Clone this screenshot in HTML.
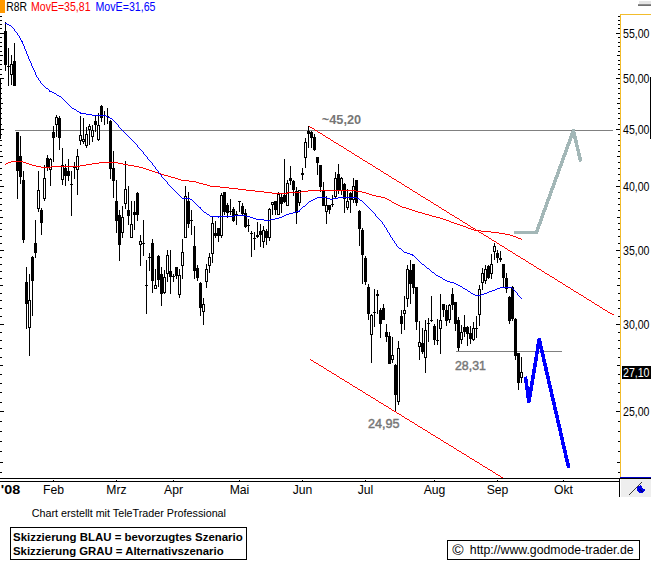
<!DOCTYPE html>
<html><head><meta charset="utf-8"><title>R8R Chart</title>
<style>
html,body{margin:0;padding:0;background:#fff;}
#c{position:relative;width:651px;height:572px;overflow:hidden;background:#fff;}
svg{position:absolute;left:0;top:0;}
text{font-family:"Liberation Sans",Arial,sans-serif;}
</style></head><body><div id="c">
<svg width="651" height="572" viewBox="0 0 651 572">
<g shape-rendering="crispEdges">
<rect x="0" y="0" width="5" height="13" fill="#ff9900"/>
<rect x="639" y="1" width="12" height="3" fill="#e6e6e6"/>
<rect x="638" y="4" width="13" height="1" fill="#8e8e8e"/>
<rect x="638" y="5" width="13" height="1" fill="#707070"/>
<rect x="620" y="14" width="31" height="1" fill="#f2bc2c"/>
<rect x="620" y="14" width="1" height="463" fill="#f2bc2c"/>
<rect x="650" y="77" width="1" height="62" fill="#000"/>
<rect x="0" y="78" width="1" height="61" fill="#000"/>
<rect x="618" y="16" width="2" height="1" fill="#000"/>
<rect x="0" y="16" width="2" height="1" fill="#000"/>
<rect x="618" y="20" width="2" height="1" fill="#000"/>
<rect x="0" y="20" width="2" height="1" fill="#000"/>
<rect x="618" y="24" width="2" height="1" fill="#000"/>
<rect x="0" y="24" width="2" height="1" fill="#000"/>
<rect x="618" y="28" width="2" height="1" fill="#000"/>
<rect x="0" y="28" width="2" height="1" fill="#000"/>
<rect x="616" y="33" width="4" height="1" fill="#000"/>
<rect x="0" y="33" width="4" height="1" fill="#000"/>
<rect x="618" y="37" width="2" height="1" fill="#000"/>
<rect x="0" y="37" width="2" height="1" fill="#000"/>
<rect x="618" y="42" width="2" height="1" fill="#000"/>
<rect x="0" y="42" width="2" height="1" fill="#000"/>
<rect x="618" y="46" width="2" height="1" fill="#000"/>
<rect x="0" y="46" width="2" height="1" fill="#000"/>
<rect x="618" y="51" width="2" height="1" fill="#000"/>
<rect x="0" y="51" width="2" height="1" fill="#000"/>
<rect x="617" y="55" width="3" height="1" fill="#000"/>
<rect x="0" y="55" width="3" height="1" fill="#000"/>
<rect x="618" y="60" width="2" height="1" fill="#000"/>
<rect x="0" y="60" width="2" height="1" fill="#000"/>
<rect x="618" y="64" width="2" height="1" fill="#000"/>
<rect x="0" y="64" width="2" height="1" fill="#000"/>
<rect x="618" y="69" width="2" height="1" fill="#000"/>
<rect x="0" y="69" width="2" height="1" fill="#000"/>
<rect x="618" y="74" width="2" height="1" fill="#000"/>
<rect x="0" y="74" width="2" height="1" fill="#000"/>
<rect x="616" y="78" width="4" height="1" fill="#000"/>
<rect x="0" y="78" width="4" height="1" fill="#000"/>
<rect x="618" y="83" width="2" height="1" fill="#000"/>
<rect x="0" y="83" width="2" height="1" fill="#000"/>
<rect x="618" y="88" width="2" height="1" fill="#000"/>
<rect x="0" y="88" width="2" height="1" fill="#000"/>
<rect x="618" y="93" width="2" height="1" fill="#000"/>
<rect x="0" y="93" width="2" height="1" fill="#000"/>
<rect x="618" y="98" width="2" height="1" fill="#000"/>
<rect x="0" y="98" width="2" height="1" fill="#000"/>
<rect x="617" y="103" width="3" height="1" fill="#000"/>
<rect x="0" y="103" width="3" height="1" fill="#000"/>
<rect x="618" y="108" width="2" height="1" fill="#000"/>
<rect x="0" y="108" width="2" height="1" fill="#000"/>
<rect x="618" y="113" width="2" height="1" fill="#000"/>
<rect x="0" y="113" width="2" height="1" fill="#000"/>
<rect x="618" y="118" width="2" height="1" fill="#000"/>
<rect x="0" y="118" width="2" height="1" fill="#000"/>
<rect x="618" y="124" width="2" height="1" fill="#000"/>
<rect x="0" y="124" width="2" height="1" fill="#000"/>
<rect x="616" y="129" width="4" height="1" fill="#000"/>
<rect x="0" y="129" width="4" height="1" fill="#000"/>
<rect x="618" y="134" width="2" height="1" fill="#000"/>
<rect x="0" y="134" width="2" height="1" fill="#000"/>
<rect x="618" y="140" width="2" height="1" fill="#000"/>
<rect x="0" y="140" width="2" height="1" fill="#000"/>
<rect x="618" y="145" width="2" height="1" fill="#000"/>
<rect x="0" y="145" width="2" height="1" fill="#000"/>
<rect x="618" y="151" width="2" height="1" fill="#000"/>
<rect x="0" y="151" width="2" height="1" fill="#000"/>
<rect x="617" y="156" width="3" height="1" fill="#000"/>
<rect x="0" y="156" width="3" height="1" fill="#000"/>
<rect x="618" y="162" width="2" height="1" fill="#000"/>
<rect x="0" y="162" width="2" height="1" fill="#000"/>
<rect x="618" y="168" width="2" height="1" fill="#000"/>
<rect x="0" y="168" width="2" height="1" fill="#000"/>
<rect x="618" y="174" width="2" height="1" fill="#000"/>
<rect x="0" y="174" width="2" height="1" fill="#000"/>
<rect x="618" y="180" width="2" height="1" fill="#000"/>
<rect x="0" y="180" width="2" height="1" fill="#000"/>
<rect x="616" y="186" width="4" height="1" fill="#000"/>
<rect x="0" y="186" width="4" height="1" fill="#000"/>
<rect x="618" y="192" width="2" height="1" fill="#000"/>
<rect x="0" y="192" width="2" height="1" fill="#000"/>
<rect x="618" y="198" width="2" height="1" fill="#000"/>
<rect x="0" y="198" width="2" height="1" fill="#000"/>
<rect x="618" y="204" width="2" height="1" fill="#000"/>
<rect x="0" y="204" width="2" height="1" fill="#000"/>
<rect x="618" y="210" width="2" height="1" fill="#000"/>
<rect x="0" y="210" width="2" height="1" fill="#000"/>
<rect x="617" y="217" width="3" height="1" fill="#000"/>
<rect x="0" y="217" width="3" height="1" fill="#000"/>
<rect x="618" y="223" width="2" height="1" fill="#000"/>
<rect x="0" y="223" width="2" height="1" fill="#000"/>
<rect x="618" y="229" width="2" height="1" fill="#000"/>
<rect x="0" y="229" width="2" height="1" fill="#000"/>
<rect x="618" y="236" width="2" height="1" fill="#000"/>
<rect x="0" y="236" width="2" height="1" fill="#000"/>
<rect x="618" y="243" width="2" height="1" fill="#000"/>
<rect x="0" y="243" width="2" height="1" fill="#000"/>
<rect x="616" y="250" width="4" height="1" fill="#000"/>
<rect x="0" y="250" width="4" height="1" fill="#000"/>
<rect x="618" y="257" width="2" height="1" fill="#000"/>
<rect x="0" y="257" width="2" height="1" fill="#000"/>
<rect x="618" y="264" width="2" height="1" fill="#000"/>
<rect x="0" y="264" width="2" height="1" fill="#000"/>
<rect x="618" y="271" width="2" height="1" fill="#000"/>
<rect x="0" y="271" width="2" height="1" fill="#000"/>
<rect x="618" y="278" width="2" height="1" fill="#000"/>
<rect x="0" y="278" width="2" height="1" fill="#000"/>
<rect x="617" y="285" width="3" height="1" fill="#000"/>
<rect x="0" y="285" width="3" height="1" fill="#000"/>
<rect x="618" y="293" width="2" height="1" fill="#000"/>
<rect x="0" y="293" width="2" height="1" fill="#000"/>
<rect x="618" y="300" width="2" height="1" fill="#000"/>
<rect x="0" y="300" width="2" height="1" fill="#000"/>
<rect x="618" y="308" width="2" height="1" fill="#000"/>
<rect x="0" y="308" width="2" height="1" fill="#000"/>
<rect x="618" y="316" width="2" height="1" fill="#000"/>
<rect x="0" y="316" width="2" height="1" fill="#000"/>
<rect x="616" y="324" width="4" height="1" fill="#000"/>
<rect x="0" y="324" width="4" height="1" fill="#000"/>
<rect x="618" y="332" width="2" height="1" fill="#000"/>
<rect x="0" y="332" width="2" height="1" fill="#000"/>
<rect x="618" y="340" width="2" height="1" fill="#000"/>
<rect x="0" y="340" width="2" height="1" fill="#000"/>
<rect x="618" y="348" width="2" height="1" fill="#000"/>
<rect x="0" y="348" width="2" height="1" fill="#000"/>
<rect x="618" y="357" width="2" height="1" fill="#000"/>
<rect x="0" y="357" width="2" height="1" fill="#000"/>
<rect x="617" y="365" width="3" height="1" fill="#000"/>
<rect x="0" y="365" width="3" height="1" fill="#000"/>
<rect x="618" y="374" width="2" height="1" fill="#000"/>
<rect x="0" y="374" width="2" height="1" fill="#000"/>
<rect x="618" y="383" width="2" height="1" fill="#000"/>
<rect x="0" y="383" width="2" height="1" fill="#000"/>
<rect x="618" y="392" width="2" height="1" fill="#000"/>
<rect x="0" y="392" width="2" height="1" fill="#000"/>
<rect x="618" y="402" width="2" height="1" fill="#000"/>
<rect x="0" y="402" width="2" height="1" fill="#000"/>
<rect x="616" y="411" width="4" height="1" fill="#000"/>
<rect x="0" y="411" width="4" height="1" fill="#000"/>
<rect x="618" y="421" width="2" height="1" fill="#000"/>
<rect x="0" y="421" width="2" height="1" fill="#000"/>
<rect x="618" y="431" width="2" height="1" fill="#000"/>
<rect x="0" y="431" width="2" height="1" fill="#000"/>
<rect x="618" y="441" width="2" height="1" fill="#000"/>
<rect x="0" y="441" width="2" height="1" fill="#000"/>
<rect x="618" y="451" width="2" height="1" fill="#000"/>
<rect x="0" y="451" width="2" height="1" fill="#000"/>
<rect x="617" y="462" width="3" height="1" fill="#000"/>
<rect x="0" y="462" width="3" height="1" fill="#000"/>
<rect x="618" y="472" width="2" height="1" fill="#000"/>
<rect x="0" y="472" width="2" height="1" fill="#000"/>
<rect x="0" y="478" width="651" height="1" fill="#000"/>
<rect x="0" y="481" width="620" height="1" fill="#000"/>
<rect x="620" y="477" width="31" height="1" fill="#0000c8"/>
<rect x="619" y="478" width="1" height="19" fill="#000"/>
<rect x="621" y="479" width="30" height="18" fill="#eeeeee"/>
<rect x="53" y="480" width="1" height="1" fill="#000"/>
<rect x="116" y="480" width="1" height="1" fill="#000"/>
<rect x="173" y="480" width="1" height="1" fill="#000"/>
<rect x="239" y="480" width="1" height="1" fill="#000"/>
<rect x="302" y="480" width="1" height="1" fill="#000"/>
<rect x="365" y="480" width="1" height="1" fill="#000"/>
<rect x="434" y="480" width="1" height="1" fill="#000"/>
<rect x="497" y="480" width="1" height="1" fill="#000"/>
<rect x="563" y="480" width="1" height="1" fill="#000"/>
<rect x="15" y="130" width="598" height="1" fill="#808080"/>
<rect x="456" y="351" width="106" height="1" fill="#808080"/>
<rect x="5" y="22" width="1" height="49" fill="#000"/>
<rect x="4" y="31" width="3" height="34" fill="#000"/>
<rect x="8" y="48" width="1" height="38" fill="#000"/>
<rect x="7" y="66" width="3" height="1" fill="#000"/>
<rect x="11" y="55" width="1" height="30" fill="#000"/>
<rect x="10" y="64" width="3" height="11" fill="#000"/>
<rect x="11" y="65" width="1" height="9" fill="#fff"/>
<rect x="14" y="43" width="1" height="43" fill="#000"/>
<rect x="13" y="61" width="3" height="25" fill="#000"/>
<rect x="17" y="132" width="1" height="67" fill="#000"/>
<rect x="16" y="132" width="3" height="39" fill="#000"/>
<rect x="20" y="136" width="1" height="48" fill="#000"/>
<rect x="19" y="156" width="3" height="21" fill="#000"/>
<rect x="23" y="171" width="1" height="72" fill="#000"/>
<rect x="22" y="180" width="3" height="60" fill="#000"/>
<rect x="26" y="267" width="1" height="62" fill="#000"/>
<rect x="25" y="282" width="3" height="22" fill="#000"/>
<rect x="29" y="274" width="1" height="82" fill="#000"/>
<rect x="28" y="300" width="3" height="28" fill="#000"/>
<rect x="29" y="301" width="1" height="26" fill="#fff"/>
<rect x="32" y="256" width="1" height="60" fill="#000"/>
<rect x="31" y="257" width="3" height="24" fill="#000"/>
<rect x="35" y="220" width="1" height="38" fill="#000"/>
<rect x="34" y="243" width="3" height="10" fill="#000"/>
<rect x="38" y="171" width="1" height="41" fill="#000"/>
<rect x="37" y="190" width="3" height="19" fill="#000"/>
<rect x="38" y="191" width="1" height="17" fill="#fff"/>
<rect x="41" y="208" width="1" height="27" fill="#000"/>
<rect x="40" y="210" width="3" height="13" fill="#000"/>
<rect x="44" y="165" width="1" height="36" fill="#000"/>
<rect x="43" y="178" width="3" height="21" fill="#000"/>
<rect x="44" y="179" width="1" height="19" fill="#fff"/>
<rect x="47" y="155" width="1" height="16" fill="#000"/>
<rect x="46" y="158" width="3" height="9" fill="#000"/>
<rect x="50" y="158" width="1" height="28" fill="#000"/>
<rect x="49" y="159" width="3" height="11" fill="#000"/>
<rect x="50" y="160" width="1" height="9" fill="#fff"/>
<rect x="53" y="126" width="1" height="36" fill="#000"/>
<rect x="52" y="132" width="3" height="6" fill="#000"/>
<rect x="56" y="115" width="1" height="22" fill="#000"/>
<rect x="55" y="117" width="3" height="8" fill="#000"/>
<rect x="56" y="118" width="1" height="6" fill="#fff"/>
<rect x="59" y="116" width="1" height="34" fill="#000"/>
<rect x="58" y="118" width="3" height="20" fill="#000"/>
<rect x="62" y="148" width="1" height="37" fill="#000"/>
<rect x="61" y="165" width="3" height="15" fill="#000"/>
<rect x="62" y="166" width="1" height="13" fill="#fff"/>
<rect x="65" y="164" width="1" height="22" fill="#000"/>
<rect x="64" y="168" width="3" height="8" fill="#000"/>
<rect x="68" y="159" width="1" height="22" fill="#000"/>
<rect x="67" y="171" width="3" height="5" fill="#000"/>
<rect x="71" y="171" width="1" height="45" fill="#000"/>
<rect x="70" y="184" width="3" height="1" fill="#000"/>
<rect x="74" y="162" width="1" height="17" fill="#000"/>
<rect x="73" y="166" width="3" height="2" fill="#000"/>
<rect x="77" y="149" width="1" height="46" fill="#000"/>
<rect x="76" y="156" width="3" height="14" fill="#000"/>
<rect x="77" y="157" width="1" height="12" fill="#fff"/>
<rect x="80" y="116" width="1" height="29" fill="#000"/>
<rect x="79" y="135" width="3" height="6" fill="#000"/>
<rect x="80" y="136" width="1" height="4" fill="#fff"/>
<rect x="83" y="118" width="1" height="26" fill="#000"/>
<rect x="82" y="139" width="3" height="3" fill="#000"/>
<rect x="83" y="140" width="1" height="1" fill="#fff"/>
<rect x="86" y="127" width="1" height="21" fill="#000"/>
<rect x="85" y="134" width="3" height="12" fill="#000"/>
<rect x="86" y="135" width="1" height="10" fill="#fff"/>
<rect x="89" y="124" width="1" height="21" fill="#000"/>
<rect x="88" y="126" width="3" height="4" fill="#000"/>
<rect x="89" y="127" width="1" height="2" fill="#fff"/>
<rect x="92" y="125" width="1" height="17" fill="#000"/>
<rect x="91" y="130" width="3" height="7" fill="#000"/>
<rect x="92" y="131" width="1" height="5" fill="#fff"/>
<rect x="95" y="115" width="1" height="17" fill="#000"/>
<rect x="94" y="121" width="3" height="4" fill="#000"/>
<rect x="98" y="113" width="1" height="28" fill="#000"/>
<rect x="97" y="125" width="3" height="15" fill="#000"/>
<rect x="98" y="126" width="1" height="13" fill="#fff"/>
<rect x="101" y="105" width="1" height="17" fill="#000"/>
<rect x="100" y="106" width="3" height="12" fill="#000"/>
<rect x="104" y="111" width="1" height="14" fill="#000"/>
<rect x="103" y="115" width="3" height="1" fill="#000"/>
<rect x="107" y="108" width="1" height="16" fill="#000"/>
<rect x="106" y="116" width="3" height="1" fill="#000"/>
<rect x="110" y="120" width="1" height="59" fill="#000"/>
<rect x="109" y="121" width="3" height="48" fill="#000"/>
<rect x="113" y="151" width="1" height="47" fill="#000"/>
<rect x="112" y="168" width="3" height="13" fill="#000"/>
<rect x="116" y="180" width="1" height="53" fill="#000"/>
<rect x="115" y="201" width="3" height="20" fill="#000"/>
<rect x="119" y="210" width="1" height="51" fill="#000"/>
<rect x="118" y="215" width="3" height="30" fill="#000"/>
<rect x="122" y="206" width="1" height="32" fill="#000"/>
<rect x="121" y="217" width="3" height="16" fill="#000"/>
<rect x="122" y="218" width="1" height="14" fill="#fff"/>
<rect x="125" y="161" width="1" height="48" fill="#000"/>
<rect x="124" y="189" width="3" height="15" fill="#000"/>
<rect x="125" y="190" width="1" height="13" fill="#fff"/>
<rect x="128" y="186" width="1" height="39" fill="#000"/>
<rect x="127" y="210" width="3" height="6" fill="#000"/>
<rect x="131" y="201" width="1" height="37" fill="#000"/>
<rect x="130" y="224" width="3" height="14" fill="#000"/>
<rect x="131" y="225" width="1" height="12" fill="#fff"/>
<rect x="134" y="201" width="1" height="29" fill="#000"/>
<rect x="133" y="212" width="3" height="3" fill="#000"/>
<rect x="137" y="192" width="1" height="29" fill="#000"/>
<rect x="136" y="193" width="3" height="22" fill="#000"/>
<rect x="140" y="235" width="1" height="31" fill="#000"/>
<rect x="139" y="241" width="3" height="4" fill="#000"/>
<rect x="140" y="242" width="1" height="2" fill="#fff"/>
<rect x="143" y="220" width="1" height="36" fill="#000"/>
<rect x="142" y="243" width="3" height="1" fill="#000"/>
<rect x="146" y="260" width="1" height="54" fill="#000"/>
<rect x="145" y="285" width="3" height="1" fill="#000"/>
<rect x="149" y="253" width="1" height="18" fill="#000"/>
<rect x="148" y="257" width="3" height="1" fill="#000"/>
<rect x="152" y="239" width="1" height="54" fill="#000"/>
<rect x="151" y="243" width="3" height="38" fill="#000"/>
<rect x="155" y="269" width="1" height="20" fill="#000"/>
<rect x="154" y="285" width="3" height="4" fill="#000"/>
<rect x="155" y="286" width="1" height="2" fill="#fff"/>
<rect x="158" y="255" width="1" height="32" fill="#000"/>
<rect x="157" y="256" width="3" height="24" fill="#000"/>
<rect x="161" y="267" width="1" height="39" fill="#000"/>
<rect x="160" y="274" width="3" height="20" fill="#000"/>
<rect x="164" y="270" width="1" height="24" fill="#000"/>
<rect x="163" y="277" width="3" height="16" fill="#000"/>
<rect x="164" y="278" width="1" height="14" fill="#fff"/>
<rect x="167" y="250" width="1" height="32" fill="#000"/>
<rect x="166" y="255" width="3" height="19" fill="#000"/>
<rect x="167" y="256" width="1" height="17" fill="#fff"/>
<rect x="170" y="250" width="1" height="44" fill="#000"/>
<rect x="169" y="271" width="3" height="6" fill="#000"/>
<rect x="173" y="274" width="1" height="8" fill="#000"/>
<rect x="172" y="276" width="3" height="1" fill="#000"/>
<rect x="176" y="267" width="1" height="12" fill="#000"/>
<rect x="175" y="267" width="3" height="9" fill="#000"/>
<rect x="179" y="269" width="1" height="29" fill="#000"/>
<rect x="178" y="275" width="3" height="20" fill="#000"/>
<rect x="179" y="276" width="1" height="18" fill="#fff"/>
<rect x="182" y="239" width="1" height="40" fill="#000"/>
<rect x="181" y="252" width="3" height="14" fill="#000"/>
<rect x="182" y="253" width="1" height="12" fill="#fff"/>
<rect x="185" y="186" width="1" height="52" fill="#000"/>
<rect x="184" y="196" width="3" height="42" fill="#000"/>
<rect x="185" y="197" width="1" height="40" fill="#fff"/>
<rect x="188" y="192" width="1" height="36" fill="#000"/>
<rect x="187" y="201" width="3" height="23" fill="#000"/>
<rect x="191" y="210" width="1" height="25" fill="#000"/>
<rect x="190" y="220" width="3" height="1" fill="#000"/>
<rect x="194" y="226" width="1" height="53" fill="#000"/>
<rect x="193" y="246" width="3" height="25" fill="#000"/>
<rect x="197" y="265" width="1" height="16" fill="#000"/>
<rect x="196" y="268" width="3" height="10" fill="#000"/>
<rect x="200" y="282" width="1" height="34" fill="#000"/>
<rect x="199" y="283" width="3" height="25" fill="#000"/>
<rect x="203" y="298" width="1" height="27" fill="#000"/>
<rect x="202" y="304" width="3" height="8" fill="#000"/>
<rect x="203" y="305" width="1" height="6" fill="#fff"/>
<rect x="206" y="264" width="1" height="24" fill="#000"/>
<rect x="205" y="269" width="3" height="13" fill="#000"/>
<rect x="206" y="270" width="1" height="11" fill="#fff"/>
<rect x="209" y="253" width="1" height="20" fill="#000"/>
<rect x="208" y="257" width="3" height="9" fill="#000"/>
<rect x="209" y="258" width="1" height="7" fill="#fff"/>
<rect x="212" y="217" width="1" height="46" fill="#000"/>
<rect x="211" y="223" width="3" height="31" fill="#000"/>
<rect x="212" y="224" width="1" height="29" fill="#fff"/>
<rect x="215" y="221" width="1" height="17" fill="#000"/>
<rect x="214" y="233" width="3" height="3" fill="#000"/>
<rect x="218" y="228" width="1" height="14" fill="#000"/>
<rect x="217" y="228" width="3" height="8" fill="#000"/>
<rect x="221" y="193" width="1" height="45" fill="#000"/>
<rect x="220" y="195" width="3" height="41" fill="#000"/>
<rect x="221" y="196" width="1" height="39" fill="#fff"/>
<rect x="224" y="192" width="1" height="23" fill="#000"/>
<rect x="223" y="192" width="3" height="20" fill="#000"/>
<rect x="227" y="203" width="1" height="15" fill="#000"/>
<rect x="226" y="205" width="3" height="8" fill="#000"/>
<rect x="230" y="199" width="1" height="16" fill="#000"/>
<rect x="229" y="211" width="3" height="1" fill="#000"/>
<rect x="233" y="207" width="1" height="15" fill="#000"/>
<rect x="232" y="209" width="3" height="12" fill="#000"/>
<rect x="236" y="211" width="1" height="14" fill="#000"/>
<rect x="235" y="214" width="3" height="2" fill="#000"/>
<rect x="239" y="201" width="1" height="11" fill="#000"/>
<rect x="238" y="201" width="3" height="1" fill="#000"/>
<rect x="242" y="203" width="1" height="13" fill="#000"/>
<rect x="241" y="206" width="3" height="8" fill="#000"/>
<rect x="245" y="209" width="1" height="19" fill="#000"/>
<rect x="244" y="213" width="3" height="14" fill="#000"/>
<rect x="248" y="219" width="1" height="13" fill="#000"/>
<rect x="247" y="225" width="3" height="1" fill="#000"/>
<rect x="251" y="231" width="1" height="26" fill="#000"/>
<rect x="250" y="233" width="3" height="1" fill="#000"/>
<rect x="254" y="232" width="1" height="18" fill="#000"/>
<rect x="253" y="238" width="3" height="1" fill="#000"/>
<rect x="257" y="222" width="1" height="16" fill="#000"/>
<rect x="256" y="235" width="3" height="2" fill="#000"/>
<rect x="260" y="224" width="1" height="23" fill="#000"/>
<rect x="259" y="231" width="3" height="4" fill="#000"/>
<rect x="263" y="226" width="1" height="22" fill="#000"/>
<rect x="262" y="230" width="3" height="12" fill="#000"/>
<rect x="263" y="231" width="1" height="10" fill="#fff"/>
<rect x="266" y="229" width="1" height="16" fill="#000"/>
<rect x="265" y="231" width="3" height="7" fill="#000"/>
<rect x="269" y="208" width="1" height="33" fill="#000"/>
<rect x="268" y="209" width="3" height="29" fill="#000"/>
<rect x="269" y="210" width="1" height="27" fill="#fff"/>
<rect x="272" y="202" width="1" height="13" fill="#000"/>
<rect x="271" y="202" width="3" height="3" fill="#000"/>
<rect x="272" y="203" width="1" height="1" fill="#fff"/>
<rect x="275" y="201" width="1" height="14" fill="#000"/>
<rect x="274" y="201" width="3" height="9" fill="#000"/>
<rect x="278" y="192" width="1" height="23" fill="#000"/>
<rect x="277" y="194" width="3" height="21" fill="#000"/>
<rect x="278" y="195" width="1" height="19" fill="#fff"/>
<rect x="281" y="193" width="1" height="20" fill="#000"/>
<rect x="280" y="197" width="3" height="7" fill="#000"/>
<rect x="284" y="159" width="1" height="44" fill="#000"/>
<rect x="283" y="195" width="3" height="7" fill="#000"/>
<rect x="287" y="180" width="1" height="26" fill="#000"/>
<rect x="286" y="183" width="3" height="23" fill="#000"/>
<rect x="287" y="184" width="1" height="21" fill="#fff"/>
<rect x="290" y="166" width="1" height="19" fill="#000"/>
<rect x="289" y="178" width="3" height="3" fill="#000"/>
<rect x="293" y="180" width="1" height="16" fill="#000"/>
<rect x="292" y="181" width="3" height="9" fill="#000"/>
<rect x="296" y="187" width="1" height="37" fill="#000"/>
<rect x="295" y="191" width="3" height="22" fill="#000"/>
<rect x="299" y="190" width="1" height="16" fill="#000"/>
<rect x="298" y="190" width="3" height="13" fill="#000"/>
<rect x="299" y="191" width="1" height="11" fill="#fff"/>
<rect x="302" y="168" width="1" height="12" fill="#000"/>
<rect x="301" y="173" width="3" height="2" fill="#000"/>
<rect x="305" y="138" width="1" height="30" fill="#000"/>
<rect x="304" y="142" width="3" height="16" fill="#000"/>
<rect x="305" y="143" width="1" height="14" fill="#fff"/>
<rect x="308" y="126" width="1" height="22" fill="#000"/>
<rect x="307" y="131" width="3" height="3" fill="#000"/>
<rect x="311" y="131" width="1" height="17" fill="#000"/>
<rect x="310" y="132" width="3" height="6" fill="#000"/>
<rect x="314" y="134" width="1" height="17" fill="#000"/>
<rect x="313" y="137" width="3" height="13" fill="#000"/>
<rect x="317" y="157" width="1" height="18" fill="#000"/>
<rect x="316" y="157" width="3" height="6" fill="#000"/>
<rect x="320" y="165" width="1" height="27" fill="#000"/>
<rect x="319" y="165" width="3" height="22" fill="#000"/>
<rect x="323" y="182" width="1" height="24" fill="#000"/>
<rect x="322" y="190" width="3" height="16" fill="#000"/>
<rect x="326" y="196" width="1" height="28" fill="#000"/>
<rect x="325" y="205" width="3" height="7" fill="#000"/>
<rect x="326" y="206" width="1" height="5" fill="#fff"/>
<rect x="329" y="205" width="1" height="9" fill="#000"/>
<rect x="328" y="205" width="3" height="5" fill="#000"/>
<rect x="332" y="195" width="1" height="12" fill="#000"/>
<rect x="331" y="204" width="3" height="1" fill="#000"/>
<rect x="335" y="172" width="1" height="26" fill="#000"/>
<rect x="334" y="178" width="3" height="19" fill="#000"/>
<rect x="335" y="179" width="1" height="17" fill="#fff"/>
<rect x="338" y="164" width="1" height="30" fill="#000"/>
<rect x="337" y="174" width="3" height="16" fill="#000"/>
<rect x="341" y="177" width="1" height="18" fill="#000"/>
<rect x="340" y="178" width="3" height="13" fill="#000"/>
<rect x="341" y="179" width="1" height="11" fill="#fff"/>
<rect x="344" y="183" width="1" height="30" fill="#000"/>
<rect x="343" y="184" width="3" height="15" fill="#000"/>
<rect x="347" y="189" width="1" height="21" fill="#000"/>
<rect x="346" y="201" width="3" height="7" fill="#000"/>
<rect x="347" y="202" width="1" height="5" fill="#fff"/>
<rect x="350" y="192" width="1" height="21" fill="#000"/>
<rect x="349" y="193" width="3" height="7" fill="#000"/>
<rect x="353" y="178" width="1" height="25" fill="#000"/>
<rect x="352" y="186" width="3" height="14" fill="#000"/>
<rect x="353" y="187" width="1" height="12" fill="#fff"/>
<rect x="356" y="180" width="1" height="26" fill="#000"/>
<rect x="355" y="180" width="3" height="23" fill="#000"/>
<rect x="359" y="210" width="1" height="36" fill="#000"/>
<rect x="358" y="211" width="3" height="18" fill="#000"/>
<rect x="362" y="228" width="1" height="56" fill="#000"/>
<rect x="361" y="230" width="3" height="25" fill="#000"/>
<rect x="365" y="256" width="1" height="29" fill="#000"/>
<rect x="364" y="258" width="3" height="24" fill="#000"/>
<rect x="368" y="284" width="1" height="36" fill="#000"/>
<rect x="367" y="287" width="3" height="27" fill="#000"/>
<rect x="371" y="314" width="1" height="49" fill="#000"/>
<rect x="370" y="315" width="3" height="20" fill="#000"/>
<rect x="371" y="316" width="1" height="18" fill="#fff"/>
<rect x="374" y="289" width="1" height="38" fill="#000"/>
<rect x="373" y="312" width="3" height="1" fill="#000"/>
<rect x="377" y="290" width="1" height="24" fill="#000"/>
<rect x="376" y="294" width="3" height="2" fill="#000"/>
<rect x="380" y="308" width="1" height="30" fill="#000"/>
<rect x="379" y="310" width="3" height="14" fill="#000"/>
<rect x="383" y="304" width="1" height="16" fill="#000"/>
<rect x="382" y="308" width="3" height="12" fill="#000"/>
<rect x="386" y="324" width="1" height="18" fill="#000"/>
<rect x="385" y="332" width="3" height="5" fill="#000"/>
<rect x="389" y="332" width="1" height="32" fill="#000"/>
<rect x="388" y="336" width="3" height="28" fill="#000"/>
<rect x="392" y="337" width="1" height="26" fill="#000"/>
<rect x="391" y="355" width="3" height="5" fill="#000"/>
<rect x="392" y="356" width="1" height="3" fill="#fff"/>
<rect x="395" y="364" width="1" height="48" fill="#000"/>
<rect x="394" y="365" width="3" height="30" fill="#000"/>
<rect x="398" y="341" width="1" height="64" fill="#000"/>
<rect x="397" y="348" width="3" height="54" fill="#000"/>
<rect x="398" y="349" width="1" height="52" fill="#fff"/>
<rect x="401" y="310" width="1" height="24" fill="#000"/>
<rect x="400" y="316" width="3" height="8" fill="#000"/>
<rect x="404" y="296" width="1" height="34" fill="#000"/>
<rect x="403" y="310" width="3" height="4" fill="#000"/>
<rect x="404" y="311" width="1" height="2" fill="#fff"/>
<rect x="407" y="265" width="1" height="42" fill="#000"/>
<rect x="406" y="269" width="3" height="30" fill="#000"/>
<rect x="407" y="270" width="1" height="28" fill="#fff"/>
<rect x="410" y="260" width="1" height="44" fill="#000"/>
<rect x="409" y="270" width="3" height="14" fill="#000"/>
<rect x="413" y="264" width="1" height="30" fill="#000"/>
<rect x="412" y="264" width="3" height="24" fill="#000"/>
<rect x="416" y="287" width="1" height="43" fill="#000"/>
<rect x="415" y="287" width="3" height="35" fill="#000"/>
<rect x="419" y="321" width="1" height="39" fill="#000"/>
<rect x="418" y="342" width="3" height="5" fill="#000"/>
<rect x="419" y="343" width="1" height="3" fill="#fff"/>
<rect x="422" y="328" width="1" height="26" fill="#000"/>
<rect x="421" y="343" width="3" height="9" fill="#000"/>
<rect x="425" y="320" width="1" height="53" fill="#000"/>
<rect x="424" y="330" width="3" height="28" fill="#000"/>
<rect x="425" y="331" width="1" height="26" fill="#fff"/>
<rect x="428" y="318" width="1" height="24" fill="#000"/>
<rect x="427" y="323" width="3" height="1" fill="#000"/>
<rect x="431" y="296" width="1" height="26" fill="#000"/>
<rect x="430" y="320" width="3" height="1" fill="#000"/>
<rect x="434" y="324" width="1" height="21" fill="#000"/>
<rect x="433" y="326" width="3" height="14" fill="#000"/>
<rect x="437" y="319" width="1" height="26" fill="#000"/>
<rect x="436" y="340" width="3" height="1" fill="#000"/>
<rect x="440" y="294" width="1" height="60" fill="#000"/>
<rect x="439" y="320" width="3" height="9" fill="#000"/>
<rect x="440" y="321" width="1" height="7" fill="#fff"/>
<rect x="443" y="304" width="1" height="13" fill="#000"/>
<rect x="442" y="304" width="3" height="6" fill="#000"/>
<rect x="446" y="305" width="1" height="21" fill="#000"/>
<rect x="445" y="310" width="3" height="11" fill="#000"/>
<rect x="449" y="304" width="1" height="19" fill="#000"/>
<rect x="448" y="305" width="3" height="15" fill="#000"/>
<rect x="449" y="306" width="1" height="13" fill="#fff"/>
<rect x="452" y="288" width="1" height="22" fill="#000"/>
<rect x="451" y="294" width="3" height="11" fill="#000"/>
<rect x="455" y="302" width="1" height="29" fill="#000"/>
<rect x="454" y="302" width="3" height="22" fill="#000"/>
<rect x="458" y="317" width="1" height="34" fill="#000"/>
<rect x="457" y="320" width="3" height="28" fill="#000"/>
<rect x="461" y="325" width="1" height="19" fill="#000"/>
<rect x="460" y="332" width="3" height="8" fill="#000"/>
<rect x="461" y="333" width="1" height="6" fill="#fff"/>
<rect x="464" y="315" width="1" height="22" fill="#000"/>
<rect x="463" y="327" width="3" height="5" fill="#000"/>
<rect x="467" y="326" width="1" height="20" fill="#000"/>
<rect x="466" y="327" width="3" height="7" fill="#000"/>
<rect x="470" y="326" width="1" height="18" fill="#000"/>
<rect x="469" y="333" width="3" height="6" fill="#000"/>
<rect x="473" y="322" width="1" height="19" fill="#000"/>
<rect x="472" y="328" width="3" height="12" fill="#000"/>
<rect x="473" y="329" width="1" height="10" fill="#fff"/>
<rect x="476" y="316" width="1" height="22" fill="#000"/>
<rect x="475" y="328" width="3" height="1" fill="#000"/>
<rect x="479" y="285" width="1" height="41" fill="#000"/>
<rect x="478" y="289" width="3" height="26" fill="#000"/>
<rect x="479" y="290" width="1" height="24" fill="#fff"/>
<rect x="482" y="268" width="1" height="22" fill="#000"/>
<rect x="481" y="273" width="3" height="10" fill="#000"/>
<rect x="482" y="274" width="1" height="8" fill="#fff"/>
<rect x="485" y="265" width="1" height="19" fill="#000"/>
<rect x="484" y="269" width="3" height="12" fill="#000"/>
<rect x="485" y="270" width="1" height="10" fill="#fff"/>
<rect x="488" y="265" width="1" height="14" fill="#000"/>
<rect x="487" y="266" width="3" height="12" fill="#000"/>
<rect x="491" y="254" width="1" height="25" fill="#000"/>
<rect x="490" y="264" width="3" height="10" fill="#000"/>
<rect x="491" y="265" width="1" height="8" fill="#fff"/>
<rect x="494" y="243" width="1" height="17" fill="#000"/>
<rect x="493" y="246" width="3" height="6" fill="#000"/>
<rect x="494" y="247" width="1" height="4" fill="#fff"/>
<rect x="497" y="250" width="1" height="13" fill="#000"/>
<rect x="496" y="253" width="3" height="5" fill="#000"/>
<rect x="500" y="251" width="1" height="11" fill="#000"/>
<rect x="499" y="258" width="3" height="2" fill="#000"/>
<rect x="503" y="264" width="1" height="23" fill="#000"/>
<rect x="502" y="264" width="3" height="14" fill="#000"/>
<rect x="506" y="273" width="1" height="20" fill="#000"/>
<rect x="505" y="278" width="3" height="11" fill="#000"/>
<rect x="509" y="296" width="1" height="28" fill="#000"/>
<rect x="508" y="297" width="3" height="24" fill="#000"/>
<rect x="512" y="286" width="1" height="35" fill="#000"/>
<rect x="511" y="287" width="3" height="32" fill="#000"/>
<rect x="515" y="318" width="1" height="42" fill="#000"/>
<rect x="514" y="319" width="3" height="37" fill="#000"/>
<rect x="518" y="353" width="1" height="37" fill="#000"/>
<rect x="517" y="353" width="3" height="30" fill="#000"/>
<rect x="521" y="357" width="1" height="26" fill="#000"/>
<rect x="520" y="372" width="3" height="6" fill="#000"/>
<rect x="521" y="373" width="1" height="4" fill="#fff"/>
</g>
<g shape-rendering="crispEdges" stroke-linejoin="round">
<path fill="#ff0000" d="M11 161h12v1h-12zM8 162h3v1h-3zM23 162h3v1h-3zM99 162h19v1h-19zM6 163h2v1h-2zM26 163h3v1h-3zM92 163h7v1h-7zM118 163h5v1h-5zM5 164h1v1h-1zM29 164h3v1h-3zM86 164h6v1h-6zM123 164h5v1h-5zM32 165h4v1h-4zM80 165h6v1h-6zM128 165h6v1h-6zM36 166h5v1h-5zM51 166h29v1h-29zM134 166h5v1h-5zM41 167h10v1h-10zM139 167h4v1h-4zM143 168h3v1h-3zM146 169h3v1h-3zM149 170h3v1h-3zM152 171h3v1h-3zM155 172h3v1h-3zM158 173h3v1h-3zM161 174h3v1h-3zM164 175h4v1h-4zM168 176h3v1h-3zM171 177h4v1h-4zM175 178h3v1h-3zM178 179h3v1h-3zM181 180h8v1h-8zM189 181h7v1h-7zM196 182h3v1h-3zM199 183h4v1h-4zM203 184h4v1h-4zM207 185h3v1h-3zM210 186h10v1h-10zM220 187h9v1h-9zM229 188h9v1h-9zM238 189h8v1h-8zM246 190h9v1h-9zM308 190h48v1h-48zM255 191h9v1h-9zM301 191h7v1h-7zM356 191h6v1h-6zM264 192h8v1h-8zM287 192h14v1h-14zM362 192h4v1h-4zM272 193h16v1h-16zM366 193h3v1h-3zM369 194h3v1h-3zM372 195h4v1h-4zM376 196h5v1h-5zM381 197h4v1h-4zM385 198h2v1h-2zM387 199h2v1h-2zM389 200h2v1h-2zM391 201h1v1h-1zM392 202h2v1h-2zM394 203h2v1h-2zM396 204h2v1h-2zM398 205h2v1h-2zM400 206h2v1h-2zM402 207h4v1h-4zM406 208h3v1h-3zM409 209h3v1h-3zM412 210h3v1h-3zM415 211h3v1h-3zM418 212h4v1h-4zM422 213h3v1h-3zM425 214h4v1h-4zM429 215h3v1h-3zM432 216h4v1h-4zM436 217h4v1h-4zM440 218h3v1h-3zM443 219h3v1h-3zM446 220h3v1h-3zM449 221h2v1h-2zM451 222h3v1h-3zM454 223h3v1h-3zM457 224h3v1h-3zM460 225h3v1h-3zM463 226h3v1h-3zM466 227h2v1h-2zM468 228h3v1h-3zM471 229h3v1h-3zM474 230h7v1h-7zM481 231h10v1h-10zM491 232h8v1h-8zM499 233h6v1h-6zM505 234h5v1h-5zM510 235h3v1h-3zM513 236h3v1h-3zM516 237h2v1h-2zM518 238h3v1h-3zM521 239h1v1h-1z"/>
<path fill="#0000ff" d="M5 23h2v1h-2zM7 24h2v1h-2zM9 25h2v1h-2zM11 26h1v1h-1zM12 27h1v1h-1zM13 28h1v1h-1zM14 29h1v1h-1zM14 30h1v1h-1zM15 31h1v1h-1zM16 32h1v1h-1zM17 33h1v1h-1zM17 34h1v1h-1zM18 35h1v1h-1zM19 36h1v1h-1zM19 37h1v1h-1zM20 38h1v1h-1zM20 39h1v1h-1zM21 40h1v1h-1zM21 41h2v1h-2zM22 42h1v1h-1zM22 43h1v1h-1zM23 44h1v1h-1zM23 45h1v1h-1zM24 46h1v1h-1zM24 47h1v1h-1zM24 48h1v1h-1zM25 49h1v1h-1zM25 50h1v1h-1zM26 51h1v1h-1zM26 52h1v1h-1zM26 53h1v1h-1zM27 54h1v1h-1zM27 55h1v1h-1zM28 56h1v1h-1zM28 57h1v1h-1zM28 58h1v1h-1zM29 59h1v1h-1zM29 60h1v1h-1zM30 61h1v1h-1zM30 62h1v1h-1zM31 63h1v1h-1zM31 64h1v1h-1zM31 65h1v1h-1zM32 66h1v1h-1zM32 67h1v1h-1zM33 68h1v1h-1zM33 69h1v1h-1zM34 70h1v1h-1zM34 71h1v1h-1zM35 72h1v1h-1zM35 73h1v1h-1zM35 74h1v1h-1zM36 75h1v1h-1zM36 76h1v1h-1zM37 77h1v1h-1zM38 78h1v1h-1zM38 79h1v1h-1zM39 80h1v1h-1zM40 81h1v1h-1zM40 82h1v1h-1zM41 83h1v1h-1zM42 84h1v1h-1zM43 85h1v1h-1zM44 86h1v1h-1zM45 87h1v1h-1zM46 88h2v1h-2zM48 89h1v1h-1zM49 90h1v1h-1zM49 91h3v1h-3zM52 92h2v1h-2zM54 93h2v1h-2zM56 94h1v1h-1zM57 95h2v1h-2zM59 96h2v1h-2zM61 97h1v1h-1zM62 98h1v1h-1zM63 99h1v1h-1zM64 100h1v1h-1zM65 101h1v1h-1zM66 102h1v1h-1zM67 103h1v1h-1zM68 104h1v1h-1zM69 105h1v1h-1zM70 106h1v1h-1zM71 107h1v1h-1zM72 108h2v1h-2zM74 109h2v1h-2zM76 110h1v1h-1zM77 111h2v1h-2zM79 112h2v1h-2zM80 113h6v1h-6zM86 114h6v1h-6zM92 115h14v1h-14zM106 116h2v1h-2zM108 117h2v1h-2zM110 118h2v1h-2zM112 119h1v1h-1zM113 120h1v1h-1zM114 121h1v1h-1zM115 122h1v1h-1zM116 123h1v1h-1zM117 124h1v1h-1zM118 125h1v1h-1zM118 126h1v1h-1zM119 127h1v1h-1zM120 128h1v1h-1zM121 129h1v1h-1zM122 130h1v1h-1zM123 131h1v1h-1zM124 132h1v1h-1zM125 133h1v1h-1zM126 134h1v1h-1zM127 135h1v1h-1zM128 136h1v1h-1zM129 137h1v1h-1zM130 138h1v1h-1zM131 139h1v1h-1zM132 140h1v1h-1zM133 141h1v1h-1zM134 142h1v1h-1zM135 143h1v1h-1zM136 144h1v1h-1zM137 145h1v1h-1zM137 146h1v1h-1zM138 147h1v1h-1zM139 148h1v1h-1zM140 149h1v1h-1zM141 150h1v1h-1zM142 151h1v1h-1zM143 152h1v1h-1zM143 153h1v1h-1zM144 154h1v1h-1zM145 155h1v1h-1zM146 156h1v1h-1zM147 157h1v1h-1zM147 158h1v1h-1zM148 159h1v1h-1zM149 160h1v1h-1zM150 161h1v1h-1zM151 162h1v1h-1zM152 163h1v1h-1zM152 164h1v1h-1zM153 165h1v1h-1zM154 166h1v1h-1zM155 167h1v1h-1zM155 168h1v1h-1zM156 169h1v1h-1zM157 170h1v1h-1zM158 171h1v1h-1zM158 172h1v1h-1zM159 173h1v1h-1zM160 174h1v1h-1zM161 175h1v1h-1zM161 176h1v1h-1zM162 177h1v1h-1zM163 178h1v1h-1zM164 179h1v1h-1zM165 180h1v1h-1zM166 181h1v1h-1zM167 182h1v1h-1zM167 183h1v1h-1zM168 184h1v1h-1zM169 185h1v1h-1zM170 186h1v1h-1zM171 187h1v1h-1zM172 188h1v1h-1zM173 189h1v1h-1zM174 190h1v1h-1zM175 191h1v1h-1zM176 192h1v1h-1zM177 193h1v1h-1zM178 194h1v1h-1zM179 195h1v1h-1zM180 196h1v1h-1zM181 197h1v1h-1zM317 197h10v1h-10zM338 197h19v1h-19zM182 198h8v1h-8zM315 198h2v1h-2zM327 198h3v1h-3zM333 198h5v1h-5zM357 198h2v1h-2zM190 199h2v1h-2zM313 199h2v1h-2zM330 199h3v1h-3zM359 199h1v1h-1zM192 200h1v1h-1zM311 200h2v1h-2zM360 200h2v1h-2zM193 201h1v1h-1zM309 201h2v1h-2zM362 201h1v1h-1zM194 202h1v1h-1zM308 202h1v1h-1zM363 202h1v1h-1zM195 203h1v1h-1zM307 203h1v1h-1zM364 203h1v1h-1zM196 204h1v1h-1zM306 204h1v1h-1zM365 204h1v1h-1zM197 205h1v1h-1zM305 205h1v1h-1zM366 205h1v1h-1zM198 206h1v1h-1zM303 206h2v1h-2zM367 206h1v1h-1zM199 207h2v1h-2zM302 207h1v1h-1zM368 207h1v1h-1zM200 208h1v1h-1zM301 208h1v1h-1zM369 208h1v1h-1zM201 209h1v1h-1zM300 209h1v1h-1zM370 209h1v1h-1zM202 210h1v1h-1zM299 210h1v1h-1zM371 210h1v1h-1zM203 211h1v1h-1zM296 211h4v1h-4zM372 211h1v1h-1zM204 212h2v1h-2zM293 212h3v1h-3zM373 212h1v1h-1zM206 213h1v1h-1zM289 213h4v1h-4zM374 213h1v1h-1zM207 214h2v1h-2zM286 214h3v1h-3zM375 214h1v1h-1zM209 215h1v1h-1zM234 215h12v1h-12zM284 215h2v1h-2zM375 215h1v1h-1zM210 216h24v1h-24zM246 216h4v1h-4zM282 216h2v1h-2zM376 216h1v1h-1zM218 217h1v1h-1zM250 217h3v1h-3zM279 217h3v1h-3zM377 217h1v1h-1zM253 218h3v1h-3zM275 218h4v1h-4zM378 218h1v1h-1zM256 219h8v1h-8zM270 219h5v1h-5zM379 219h1v1h-1zM264 220h6v1h-6zM380 220h1v1h-1zM381 221h1v1h-1zM382 222h1v1h-1zM382 223h1v1h-1zM383 224h1v1h-1zM384 225h1v1h-1zM384 226h1v1h-1zM385 227h1v1h-1zM386 228h1v1h-1zM386 229h1v1h-1zM387 230h1v1h-1zM387 231h1v1h-1zM388 232h1v1h-1zM389 233h1v1h-1zM389 234h1v1h-1zM390 235h1v1h-1zM390 236h1v1h-1zM391 237h1v1h-1zM392 238h1v1h-1zM392 239h1v1h-1zM393 240h1v1h-1zM394 241h1v1h-1zM394 242h1v1h-1zM395 243h1v1h-1zM396 244h1v1h-1zM396 245h1v1h-1zM397 246h1v1h-1zM398 247h1v1h-1zM399 248h2v1h-2zM401 249h1v1h-1zM402 250h1v1h-1zM403 251h1v1h-1zM404 252h3v1h-3zM407 253h3v1h-3zM410 254h3v1h-3zM412 255h2v1h-2zM414 256h1v1h-1zM415 257h1v1h-1zM416 258h1v1h-1zM417 259h1v1h-1zM418 260h1v1h-1zM419 261h1v1h-1zM420 262h1v1h-1zM421 263h1v1h-1zM422 264h2v1h-2zM424 265h1v1h-1zM425 266h1v1h-1zM426 267h1v1h-1zM427 268h2v1h-2zM429 269h1v1h-1zM430 270h1v1h-1zM431 271h1v1h-1zM432 272h2v1h-2zM434 273h1v1h-1zM435 274h1v1h-1zM436 275h2v1h-2zM438 276h2v1h-2zM440 277h2v1h-2zM442 278h1v1h-1zM443 279h2v1h-2zM445 280h2v1h-2zM447 281h3v1h-3zM450 282h4v1h-4zM454 283h2v1h-2zM456 284h2v1h-2zM458 285h2v1h-2zM460 286h2v1h-2zM462 287h1v1h-1zM500 287h12v1h-12zM463 288h2v1h-2zM497 288h3v1h-3zM512 288h1v1h-1zM465 289h2v1h-2zM495 289h2v1h-2zM513 289h1v1h-1zM467 290h1v1h-1zM492 290h3v1h-3zM514 290h1v1h-1zM468 291h2v1h-2zM489 291h3v1h-3zM515 291h1v1h-1zM470 292h1v1h-1zM487 292h2v1h-2zM516 292h1v1h-1zM471 293h2v1h-2zM484 293h3v1h-3zM517 293h1v1h-1zM473 294h2v1h-2zM481 294h3v1h-3zM517 294h1v1h-1zM475 295h6v1h-6zM518 295h1v1h-1zM519 296h1v1h-1zM520 297h1v1h-1zM521 298h1v1h-1z"/>
<path fill="#ff0000" d="M309 126h1v1h-1zM310 127h2v1h-2zM312 128h2v1h-2zM314 129h1v1h-1zM315 130h2v1h-2zM317 131h1v1h-1zM318 132h2v1h-2zM320 133h2v1h-2zM322 134h1v1h-1zM323 135h2v1h-2zM325 136h1v1h-1zM326 137h2v1h-2zM328 138h2v1h-2zM330 139h1v1h-1zM331 140h2v1h-2zM333 141h1v1h-1zM334 142h2v1h-2zM336 143h2v1h-2zM338 144h1v1h-1zM339 145h2v1h-2zM341 146h2v1h-2zM343 147h1v1h-1zM344 148h2v1h-2zM346 149h1v1h-1zM347 150h2v1h-2zM349 151h2v1h-2zM351 152h1v1h-1zM352 153h2v1h-2zM354 154h1v1h-1zM355 155h2v1h-2zM357 156h2v1h-2zM359 157h1v1h-1zM360 158h2v1h-2zM362 159h1v1h-1zM363 160h2v1h-2zM365 161h2v1h-2zM367 162h1v1h-1zM368 163h2v1h-2zM370 164h2v1h-2zM372 165h1v1h-1zM373 166h2v1h-2zM375 167h1v1h-1zM376 168h2v1h-2zM378 169h2v1h-2zM380 170h1v1h-1zM381 171h2v1h-2zM383 172h1v1h-1zM384 173h2v1h-2zM386 174h2v1h-2zM388 175h1v1h-1zM389 176h2v1h-2zM391 177h1v1h-1zM392 178h2v1h-2zM394 179h2v1h-2zM396 180h1v1h-1zM397 181h2v1h-2zM399 182h2v1h-2zM401 183h1v1h-1zM402 184h2v1h-2zM404 185h1v1h-1zM405 186h2v1h-2zM407 187h2v1h-2zM409 188h1v1h-1zM410 189h2v1h-2zM412 190h1v1h-1zM413 191h2v1h-2zM415 192h2v1h-2zM417 193h1v1h-1zM418 194h2v1h-2zM420 195h1v1h-1zM421 196h2v1h-2zM423 197h2v1h-2zM425 198h1v1h-1zM426 199h2v1h-2zM428 200h2v1h-2zM430 201h1v1h-1zM431 202h2v1h-2zM433 203h1v1h-1zM434 204h2v1h-2zM436 205h2v1h-2zM438 206h1v1h-1zM439 207h2v1h-2zM441 208h1v1h-1zM442 209h2v1h-2zM444 210h2v1h-2zM446 211h1v1h-1zM447 212h2v1h-2zM449 213h1v1h-1zM450 214h2v1h-2zM452 215h2v1h-2zM454 216h1v1h-1zM455 217h2v1h-2zM457 218h2v1h-2zM459 219h1v1h-1zM460 220h2v1h-2zM462 221h1v1h-1zM463 222h2v1h-2zM465 223h2v1h-2zM467 224h1v1h-1zM468 225h2v1h-2zM470 226h1v1h-1zM471 227h2v1h-2zM473 228h2v1h-2zM475 229h1v1h-1zM476 230h2v1h-2zM478 231h1v1h-1zM479 232h2v1h-2zM481 233h2v1h-2zM483 234h1v1h-1zM484 235h2v1h-2zM486 236h2v1h-2zM488 237h1v1h-1zM489 238h2v1h-2zM491 239h1v1h-1zM492 240h2v1h-2zM494 241h2v1h-2zM496 242h1v1h-1zM497 243h2v1h-2zM499 244h1v1h-1zM500 245h2v1h-2zM502 246h2v1h-2zM504 247h1v1h-1zM505 248h2v1h-2zM507 249h1v1h-1zM508 250h2v1h-2zM510 251h2v1h-2zM512 252h1v1h-1zM513 253h2v1h-2zM515 254h1v1h-1zM516 255h2v1h-2zM518 256h2v1h-2zM520 257h1v1h-1zM521 258h2v1h-2zM523 259h2v1h-2zM525 260h1v1h-1zM526 261h2v1h-2zM528 262h1v1h-1zM529 263h2v1h-2zM531 264h2v1h-2zM533 265h1v1h-1zM534 266h2v1h-2zM536 267h1v1h-1zM537 268h2v1h-2zM539 269h2v1h-2zM541 270h1v1h-1zM542 271h2v1h-2zM544 272h1v1h-1zM545 273h2v1h-2zM547 274h2v1h-2zM549 275h1v1h-1zM550 276h2v1h-2zM552 277h2v1h-2zM554 278h1v1h-1zM555 279h2v1h-2zM557 280h1v1h-1zM558 281h2v1h-2zM560 282h2v1h-2zM562 283h1v1h-1zM563 284h2v1h-2zM565 285h1v1h-1zM566 286h2v1h-2zM568 287h2v1h-2zM570 288h1v1h-1zM571 289h2v1h-2zM573 290h1v1h-1zM574 291h2v1h-2zM576 292h2v1h-2zM578 293h1v1h-1zM579 294h2v1h-2zM581 295h2v1h-2zM583 296h1v1h-1zM584 297h2v1h-2zM586 298h1v1h-1zM587 299h2v1h-2zM589 300h2v1h-2zM591 301h1v1h-1zM592 302h2v1h-2zM594 303h1v1h-1zM595 304h2v1h-2zM597 305h2v1h-2zM599 306h1v1h-1zM600 307h2v1h-2zM602 308h1v1h-1zM603 309h2v1h-2zM605 310h2v1h-2zM607 311h1v1h-1zM608 312h2v1h-2zM610 313h2v1h-2zM612 314h2v1h-2z"/>
<path fill="#ff0000" d="M310 359h1v1h-1zM311 360h2v1h-2zM313 361h1v1h-1zM314 362h2v1h-2zM316 363h2v1h-2zM318 364h1v1h-1zM319 365h2v1h-2zM321 366h2v1h-2zM323 367h1v1h-1zM324 368h2v1h-2zM326 369h1v1h-1zM327 370h2v1h-2zM329 371h2v1h-2zM331 372h1v1h-1zM332 373h2v1h-2zM334 374h2v1h-2zM336 375h1v1h-1zM337 376h2v1h-2zM339 377h1v1h-1zM340 378h2v1h-2zM342 379h2v1h-2zM344 380h1v1h-1zM345 381h2v1h-2zM347 382h2v1h-2zM349 383h1v1h-1zM350 384h2v1h-2zM352 385h1v1h-1zM353 386h2v1h-2zM355 387h2v1h-2zM357 388h1v1h-1zM358 389h2v1h-2zM360 390h2v1h-2zM362 391h1v1h-1zM363 392h2v1h-2zM365 393h1v1h-1zM366 394h2v1h-2zM368 395h2v1h-2zM370 396h1v1h-1zM371 397h2v1h-2zM373 398h2v1h-2zM375 399h1v1h-1zM376 400h2v1h-2zM378 401h1v1h-1zM379 402h2v1h-2zM381 403h2v1h-2zM383 404h1v1h-1zM384 405h2v1h-2zM386 406h2v1h-2zM388 407h1v1h-1zM389 408h2v1h-2zM391 409h1v1h-1zM392 410h2v1h-2zM394 411h2v1h-2zM396 412h1v1h-1zM397 413h2v1h-2zM399 414h2v1h-2zM401 415h1v1h-1zM402 416h2v1h-2zM404 417h1v1h-1zM405 418h2v1h-2zM407 419h2v1h-2zM409 420h1v1h-1zM410 421h2v1h-2zM412 422h2v1h-2zM414 423h1v1h-1zM415 424h2v1h-2zM417 425h1v1h-1zM418 426h2v1h-2zM420 427h2v1h-2zM422 428h1v1h-1zM423 429h2v1h-2zM425 430h2v1h-2zM427 431h1v1h-1zM428 432h2v1h-2zM430 433h1v1h-1zM431 434h2v1h-2zM433 435h2v1h-2zM435 436h1v1h-1zM436 437h2v1h-2zM438 438h2v1h-2zM440 439h1v1h-1zM441 440h2v1h-2zM443 441h1v1h-1zM444 442h2v1h-2zM446 443h2v1h-2zM448 444h1v1h-1zM449 445h2v1h-2zM451 446h2v1h-2zM453 447h1v1h-1zM454 448h2v1h-2zM456 449h1v1h-1zM457 450h2v1h-2zM459 451h2v1h-2zM461 452h1v1h-1zM462 453h2v1h-2zM464 454h2v1h-2zM466 455h1v1h-1zM467 456h2v1h-2zM469 457h1v1h-1zM470 458h2v1h-2zM472 459h2v1h-2zM474 460h1v1h-1zM475 461h2v1h-2zM477 462h2v1h-2zM479 463h1v1h-1zM480 464h2v1h-2zM482 465h1v1h-1zM483 466h2v1h-2zM485 467h2v1h-2zM487 468h1v1h-1zM488 469h2v1h-2zM490 470h2v1h-2zM492 471h1v1h-1zM493 472h2v1h-2zM495 473h1v1h-1zM496 474h2v1h-2zM498 475h2v1h-2zM500 476h1v1h-1zM501 477h2v1h-2z"/>
<polyline points="514,232.5 536.4,232.5 573.4,130.5 580.7,161.6" stroke="#a3b7b7" stroke-width="3.5" fill="none"/>
<polyline points="525.4,376.6 528.9,401.5 539.2,339.3 568.7,467.8" stroke="#0000ff" stroke-width="3.6" fill="none"/>
</g>
<g shape-rendering="crispEdges">
<line x1="629.1" y1="494.6" x2="641.8" y2="482.0" stroke="#000" stroke-width="0.75"/>
<polygon points="637.1,487.8 640.4,484.7 641.8,486.1 641.6,487.8 644.6,489.0 644.8,490.3 642.1,493.5 639.8,493.3 637.5,490.9" fill="#0000e8"/>
<line x1="639.2" y1="489.2" x2="642.6" y2="491.6" stroke="#000080" stroke-width="1.2"/>
</g>
<rect x="622" y="366" width="29" height="13" fill="#000" shape-rendering="crispEdges"/>
<g font-size="12.2px" fill="#000">
<text x="6.3" y="10.7" textLength="20.7" lengthAdjust="spacingAndGlyphs">R8R</text>
<text x="31" y="10.7" fill="#ff0000" textLength="59.5" lengthAdjust="spacingAndGlyphs">MovE=35,81</text>
<text x="95.5" y="10.7" fill="#0000ff" textLength="60" lengthAdjust="spacingAndGlyphs">MovE=31,65</text>
<text x="623" y="37.9" textLength="26.5" lengthAdjust="spacingAndGlyphs">55,00</text>
<text x="623" y="82.9" textLength="26.5" lengthAdjust="spacingAndGlyphs">50,00</text>
<text x="623" y="133.9" textLength="26.5" lengthAdjust="spacingAndGlyphs">45,00</text>
<text x="623" y="190.9" textLength="26.5" lengthAdjust="spacingAndGlyphs">40,00</text>
<text x="623" y="254.9" textLength="26.5" lengthAdjust="spacingAndGlyphs">35,00</text>
<text x="623" y="328.9" textLength="26.5" lengthAdjust="spacingAndGlyphs">30,00</text>
<text x="623" y="415.9" textLength="26.5" lengthAdjust="spacingAndGlyphs">25,00</text>
<text x="623" y="377" fill="#fff" textLength="26.5" lengthAdjust="spacingAndGlyphs">27,10</text>
<text x="53.5" y="493.5" text-anchor="middle" font-size="12.2px">Feb</text>
<text x="116.5" y="493.5" text-anchor="middle" font-size="12.2px">Mrz</text>
<text x="173.5" y="493.5" text-anchor="middle" font-size="12.2px">Apr</text>
<text x="239.5" y="493.5" text-anchor="middle" font-size="12.2px">Mai</text>
<text x="302.5" y="493.5" text-anchor="middle" font-size="12.2px">Jun</text>
<text x="365.5" y="493.5" text-anchor="middle" font-size="12.2px">Jul</text>
<text x="434.5" y="493.5" text-anchor="middle" font-size="12.2px">Aug</text>
<text x="497.5" y="493.5" text-anchor="middle" font-size="12.2px">Sep</text>
<text x="563.5" y="493.5" text-anchor="middle" font-size="12.2px">Okt</text>
<text x="0.8" y="493.5" font-size="12.3px" font-weight="bold" textLength="19.4" lengthAdjust="spacingAndGlyphs">'08</text>
<text x="31.7" y="516.6" font-size="11px" textLength="194.3" lengthAdjust="spacingAndGlyphs">Chart erstellt mit TeleTrader Professional</text>
</g>
<g font-size="13.7px" fill="#767676">
<text x="321.8" y="123.8" font-weight="bold" textLength="39.4" lengthAdjust="spacingAndGlyphs">~45,20</text>
<text x="455" y="369.6" textLength="30.9" lengthAdjust="spacingAndGlyphs" stroke="#767676" stroke-width="0.45">28,31</text>
<text x="368" y="427.7" textLength="31.6" lengthAdjust="spacingAndGlyphs" stroke="#767676" stroke-width="0.45">24,95</text>
</g>
<rect x="10.5" y="527.5" width="236" height="32" fill="#fff" stroke="#000" stroke-width="1" shape-rendering="crispEdges"/>
<g font-size="11px" font-weight="bold" fill="#000">
<text x="13" y="540.5" textLength="229.7" lengthAdjust="spacingAndGlyphs">Skizzierung BLAU = bevorzugtes Szenario</text>
<text x="13" y="554.5" textLength="210.6" lengthAdjust="spacingAndGlyphs">Skizzierung GRAU = Alternativszenario</text>
</g>
<rect x="447.5" y="540.5" width="192" height="19" fill="#fff" stroke="#000" stroke-width="1" shape-rendering="crispEdges"/>
<text x="452.3" y="555.4" font-size="15.4px" fill="#000">©</text>
<text x="469.8" y="554.3" font-size="13px" fill="#000" textLength="163.8" lengthAdjust="spacingAndGlyphs">http://www.godmode-trader.de</text>
</svg></div></body></html>
